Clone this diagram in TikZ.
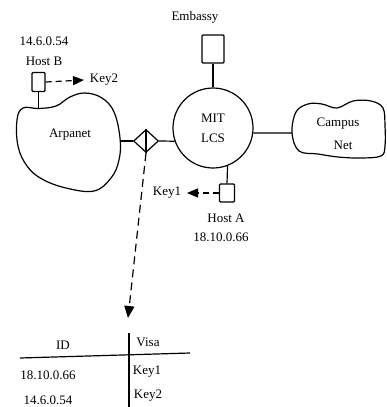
\documentclass[tikz,border=0pt]{standalone}
\usepackage{fontspec}
\setmainfont{Liberation Serif}
\usetikzlibrary{arrows.meta,calc,shapes.geometric}
\definecolor{InkClr}{rgb}{0,0,0}

\begin{document}
\begin{tikzpicture}[x=1pt,y=-1pt,
  every node/.style={font=\fontsize{13}{15}\selectfont,inner sep=0pt,text=InkClr},
  net/.style={draw=InkClr,line width=1.2pt},
  hostbox/.style={net,minimum width=13pt,minimum height=19pt,rounded corners=1pt},
  keyarrow/.style={net,dash pattern=on 6pt off 4pt,-{Triangle[length=11pt,width=9pt]}}]
\useasboundingbox (0,0) rectangle (387,407);

% Host B on the Arpanet
\node (ipB) at (44,41) {14.6.0.54};
\node (hostBlbl) at (44,61) {Host B};
\node[hostbox] (hostB) at (38.5,82) {};
\node (keyB) at (104,80) {Key2};
\coordinate (keyBtip) at (84,80);

\draw[net] plot[smooth cycle,tension=0.65] coordinates {
  (23,108) (38.5,108.5) (56,106) (70,97) (85,93) (102,98) (114,112)
  (120,138) (119,160) (111,178) (94,191) (66,188) (42,179) (27,166)
  (18,146) (17,120)};
\coordinate (arpTop) at (38.5,108.5);
\coordinate (arpRight) at (120,141);
\node (arpanet) at (70,135) {Arpanet};

% gateway
\node[net,diamond,minimum width=25pt,minimum height=23pt] (gw) at (146,141) {};
\draw[net] (gw.north) -- (gw.south);

% MIT LCS
\node[net,circle,minimum size=80pt] (lcs) at (213,128) {};
\node (mit) at (213,118) {MIT};
\node (lcsl) at (213,138) {LCS};
\node (embLbl) at (195,17) {Embassy};
\node[hostbox,minimum width=22pt,minimum height=28pt] (embassy) at (213,49) {};

% Campus Net
\draw[net] plot[smooth cycle,tension=0.6] coordinates {
  (292,133) (296,112) (308,104) (322,104) (337,108) (353,101) (371,101)
  (383,108) (385,126) (385,146) (381,156) (360,158) (338,157) (318,154)
  (299,151)};
\coordinate (campLeft) at (292,133);
\node (campus) at (338,124) {Campus};
\node (netl) at (343,145) {Net};

% Host A
\node[hostbox,minimum width=15pt,minimum height=18pt] (hostA) at (227,193) {};
\node (keyA) at (167,193) {Key1};
\coordinate (keyAtip) at (187,193);
\node (hostAlbl) at (226,218) {Host A};
\node (ipA) at (221,237) {18.10.0.66};

% links
\draw[net] (hostB.south) -- (arpTop);
\draw[net] (arpRight) -- (gw.west);
\draw[net] (gw.east) -- (lcs.199);
\draw[net] (embassy.south) -- (lcs.north);
\draw[net] (lcs.-7) -- (campLeft);
\draw[net] (lcs.-69.5) -- (hostA.north);
\draw[keyarrow] (hostB.east) -- (keyBtip);
\draw[keyarrow] (hostA.west) -- (keyAtip);

% visa table
\coordinate (visaTip) at (128,318);
\draw[net,dash pattern=on 8pt off 5pt,-{Triangle[length=12pt,width=10pt]}] (gw.south) -- (visaTip);
\draw[net] (20,358) -- (190,353);
\draw[net] (129,333) -- (129,407);
\node (idh) at (63,345) {ID};
\node (visah) at (148,342) {Visa};
\node (row1id) at (48,375) {18.10.0.66};
\node (row1key) at (147,372) {Key1};
\node (row2id) at (48,400) {14.6.0.54};
\node (row2key) at (148,396) {Key2};
\end{tikzpicture}
\end{document}
